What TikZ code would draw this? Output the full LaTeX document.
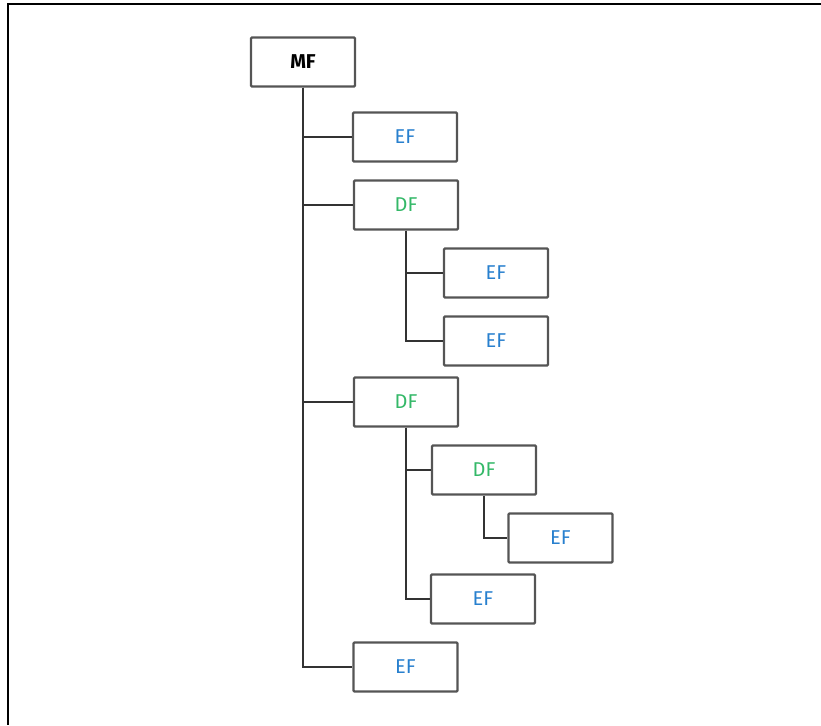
\documentclass[tikz,border=0pt]{standalone}
\usepackage{fontspec}
\setmainfont{Fira Sans}
\usetikzlibrary{calc}
\definecolor{efblue}{RGB}{40,128,206}
\definecolor{dfgreen}{RGB}{52,184,104}
\definecolor{boxgray}{RGB}{85,85,85}
\tikzset{
	fbox/.style={draw=boxgray, line width=2.2pt, rounded corners=1pt, minimum width=104pt, minimum height=49pt, inner sep=0pt, font=\fontsize{20}{20}\selectfont},
	efbox/.style={fbox, text=efblue},
	dfbox/.style={fbox, text=dfgreen},
	link/.style={draw=black!80, line width=2pt}
}

\begin{document}
\begin{tikzpicture}[x=1pt, y=-1pt]
		%%%%% START %%%%%
		
		\useasboundingbox (0, 0) rectangle (821, 725);
		\draw[line width=2pt] (821, 4.5) -- (7.5, 4.5) -- (7.5, 725);
		
		\node[fbox, font=\fontsize{20}{20}\selectfont\bfseries] (mf) at (303, 62) {MF};
		
		\node[efbox] (ef1) at (405, 137) {EF};
		\node[dfbox] (df1) at (406, 205) {DF};
		\node[efbox] (ef2) at (496, 273) {EF};
		\node[efbox] (ef3) at (496, 341) {EF};
		
		\node[dfbox] (df2) at (406, 402) {DF};
		\node[dfbox] (df3) at (484, 470) {DF};
		\node[efbox] (ef4) at (560.5, 538) {EF};
		\node[efbox] (ef5) at (483, 599) {EF};
		
		\node[efbox] (ef6) at (405.5, 667) {EF};
		
		\draw[link] (mf.south) |- (ef1.west);
		\draw[link] (mf.south) |- (df1.west);
		\draw[link] (mf.south) |- (df2.west);
		\draw[link] (mf.south) |- (ef6.west);
		
		\draw[link] (df1.south) |- (ef2.west);
		\draw[link] (df1.south) |- (ef3.west);
		
		\draw[link] (df2.south) |- (df3.west);
		\draw[link] (df2.south) |- (ef5.west);
		\draw[link] (df3.south) |- (ef4.west);
		
		%%%%% END %%%%%
	\end{tikzpicture}
\end{document}
